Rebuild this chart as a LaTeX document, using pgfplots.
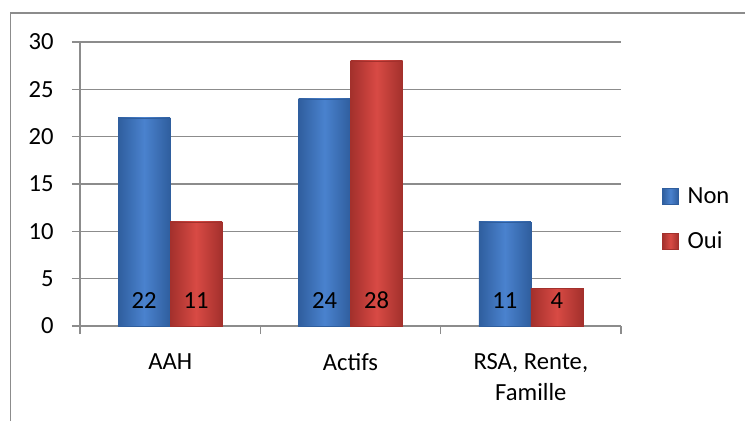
\documentclass[border=0pt]{standalone}
\usepackage{fontspec}
\setmainfont{Carlito}
\usepackage{pgfplots}
\pgfplotsset{compat=1.18}
\definecolor{bluemid}{HTML}{4A82CE}
\definecolor{blueedge}{HTML}{2F5E9E}
\definecolor{redmid}{HTML}{D84A44}
\definecolor{rededge}{HTML}{A3302C}
\definecolor{gridgray}{HTML}{8C8C8C}
\newcommand{\chartfont}{\fontsize{24.7}{31}\selectfont}
\pgfplotsset{
  nonbar/.style={ybar, bar width=52bp, bar shift=-26bp, draw=blueedge,
    left color=blueedge, right color=blueedge, middle color=bluemid},
  ouibar/.style={ybar, bar width=52bp, bar shift=26bp, draw=rededge,
    left color=rededge, right color=rededge, middle color=redmid},
}
\begin{document}
\begin{tikzpicture}[x=1bp,y=1bp]
\begin{axis}[
  scale only axis, width=541bp, height=284bp,
  xmin=-0.5, xmax=2.5, ymin=0, ymax=30,
  axis x line*=bottom, axis y line*=left,
  axis line style={gridgray, line width=1.2bp, -},
  xtick={0,1,2}, xticklabels={AAH, Actifs, {RSA, Rente,\\Famille}},
  minor xtick={-0.5,0.5,1.5,2.5},
  ytick={0,5,...,30},
  tick align=outside,
  major x tick style={draw=none},
  minor tick length=8bp, major tick length=8bp,
  tick style={gridgray, line width=1.2bp},
  ymajorgrids, major grid style={gridgray, line width=1.2bp},
  tick label style={font=\chartfont},
  /pgf/number format/assume math mode=true,
  xticklabel style={align=center, yshift=-16bp},
  yticklabel style={xshift=-15bp},
  legend style={at={(1.0758,0.377)}, anchor=west, draw=none, fill=none,
    font=\chartfont, row sep=23bp, inner sep=0pt,
    /tikz/every odd column/.append style={column sep=7bp}},
  legend cell align=left,
  legend image code/.code={\draw[#1] (0bp,-8bp) rectangle (16bp,8bp);},
]
\coordinate (O) at (rel axis cs:0,0);
\addplot[nonbar] coordinates {(0,22)};
\addlegendentry{Non}
\addplot[ouibar] coordinates {(0,11)};
\addlegendentry{Oui}
\addplot[nonbar, forget plot] coordinates {(1,24)};
\addplot[ouibar, forget plot] coordinates {(1,28)};
\addplot[nonbar, forget plot] coordinates {(2,11)};
\addplot[ouibar, forget plot] coordinates {(2,4)};
\addplot[only marks, mark=none, forget plot, point meta=explicit,
  nodes near coords, nodes near coords style={anchor=base, inner sep=0pt, xshift=-26bp, font=\chartfont},
  /pgf/number format/assume math mode=true]
  coordinates {(0,1.8) [22] (1,1.8) [24] (2,1.8) [11]};
\addplot[only marks, mark=none, forget plot, point meta=explicit,
  nodes near coords, nodes near coords style={anchor=base, inner sep=0pt, xshift=26bp, font=\chartfont},
  /pgf/number format/assume math mode=true]
  coordinates {(0,1.8) [11] (1,1.8) [28] (2,1.8) [4]};
\end{axis}
\pgfresetboundingbox
\useasboundingbox ([shift={(-80,-95)}]O) rectangle ([shift={(665,326)}]O);
\draw[gridgray, line width=1.5bp] ([shift={(-69.5,-95)}]O) -- ([shift={(-69.5,313)}]O) -- ([shift={(665,313)}]O);
\end{tikzpicture}
\end{document}
